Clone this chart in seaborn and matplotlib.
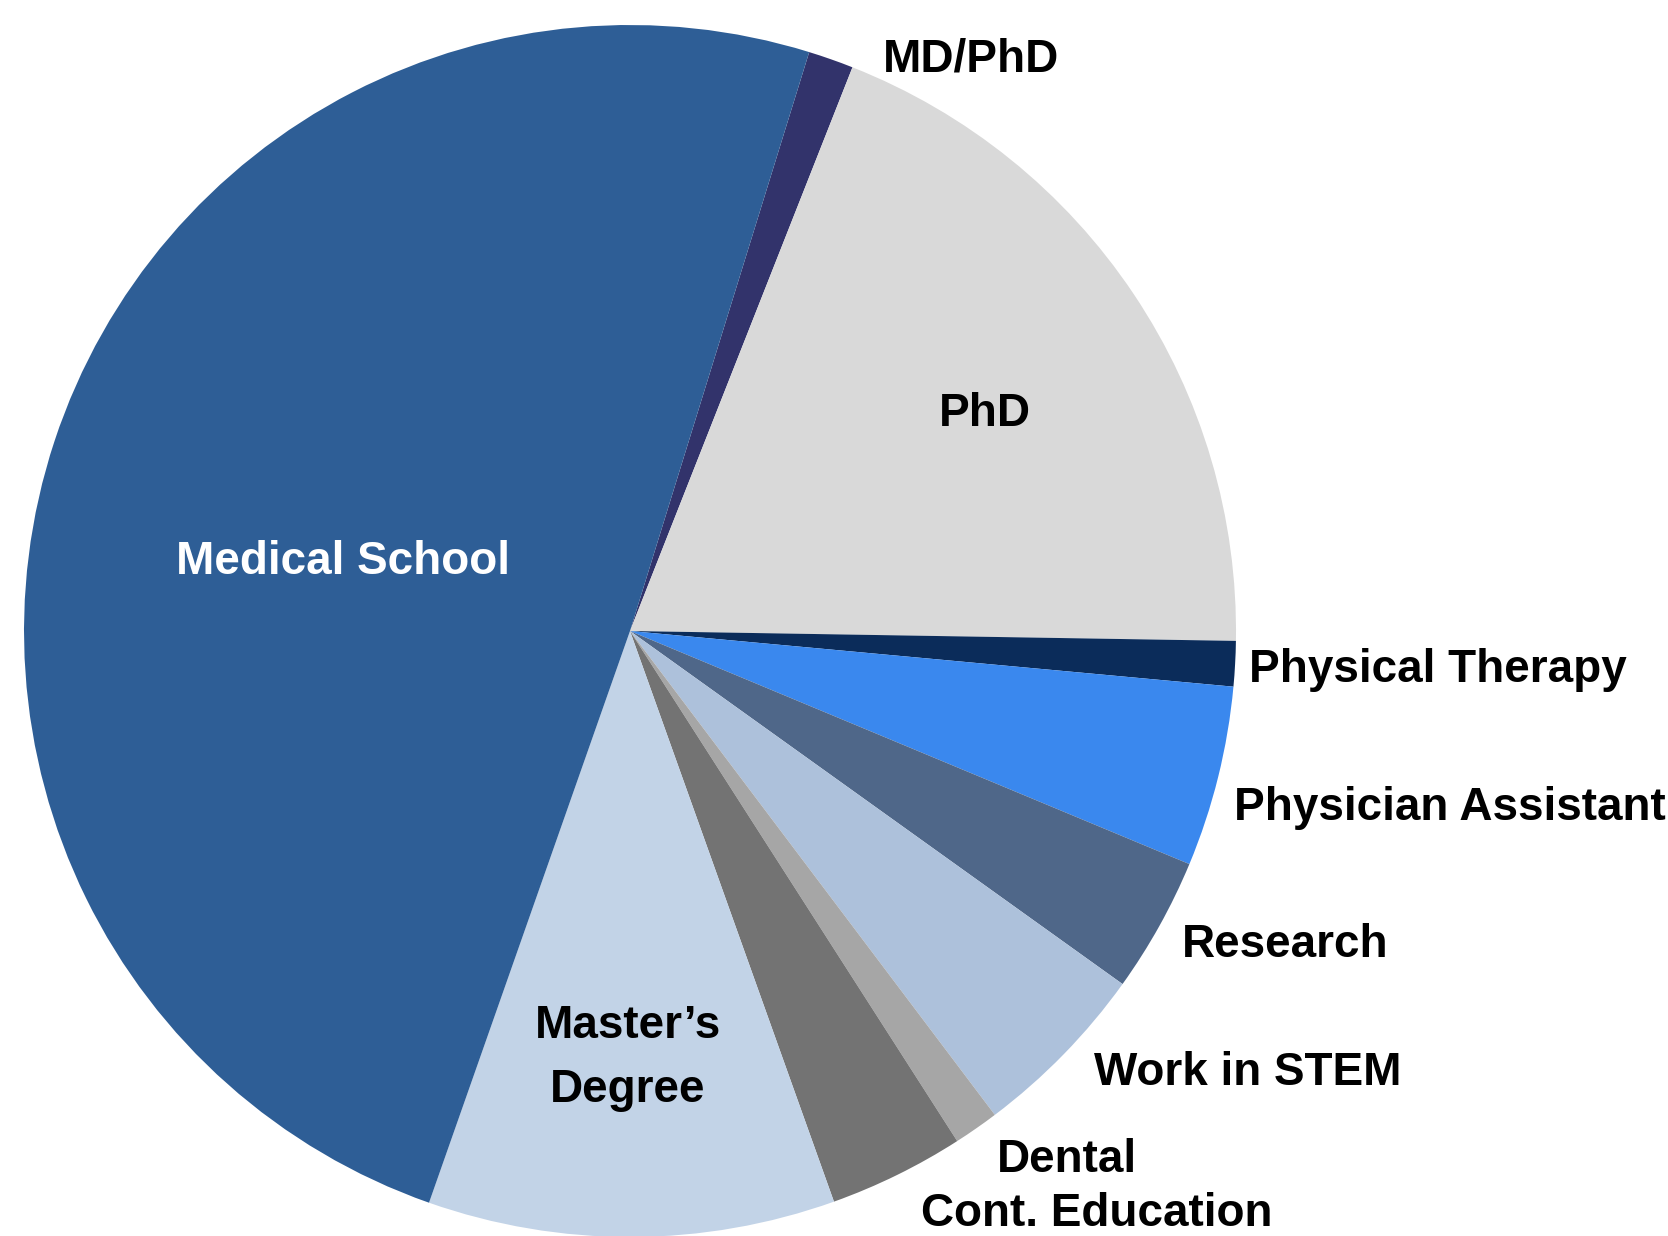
import matplotlib
matplotlib.use("Agg")
import matplotlib.pyplot as plt
import seaborn as sns

# counts per destination, clockwise from the MD/PhD sliver
categories = [
    "MD/PhD",
    "PhD",
    "Physical Therapy",
    "Physician Assistant",
    "Research",
    "Work in STEM",
    "Dental",
    "Cont. Education",
    "Master\u2019s\nDegree",
    "Medical School",
]
counts = [1, 16, 1, 4, 3, 4, 1, 3, 9, 41]
colors = [
    "#32336B",
    "#D9D9D9",
    "#0B2C5A",
    "#3A88EE",
    "#4F6789",
    "#ADC1DB",
    "#A6A6A6",
    "#737373",
    "#C2D3E7",
    "#2E5E96",
]

# label placement in pixel coords (x, y from top), alignment, text colour
label_pos = {
    "MD/PhD": (971, 71, "center", "black"),
    "PhD": (985, 426, "center", "black"),
    "Physical Therapy": (1249, 682, "left", "black"),
    "Physician Assistant": (1234, 820, "left", "black"),
    "Research": (1182, 957, "left", "black"),
    "Work in STEM": (1094, 1085, "left", "black"),
    "Dental": (997, 1172, "left", "black"),
    "Cont. Education": (921, 1226, "left", "black"),
    "Master\u2019s\nDegree": (628, 1102, "center", "black"),
    "Medical School": (343, 574, "center", "white"),
}

W, H = 1668, 1236
sns.set_theme(style="white")
plt.rcParams["font.family"] = ["Liberation Sans", "DejaVu Sans"]

fig = plt.figure(figsize=(W / 100, H / 100), dpi=100)
ax = fig.add_axes([0, 0, 1, 1])

ax.pie(
    counts,
    colors=colors,
    startangle=72.8,
    counterclock=False,
    center=(630, H - 631),
    radius=606,
    wedgeprops=dict(linewidth=0),
)
ax.set_xlim(0, W)
ax.set_ylim(0, H)
ax.set_aspect("equal")
ax.axis("off")

for name in categories:
    x, y, ha, col = label_pos[name]
    ax.text(
        x,
        H - y,
        name,
        ha=ha,
        va="baseline",
        ma="center",
        fontsize=33,
        fontweight="bold",
        color=col,
        linespacing=1.58,
    )

plt.savefig("out.png", dpi=100)
